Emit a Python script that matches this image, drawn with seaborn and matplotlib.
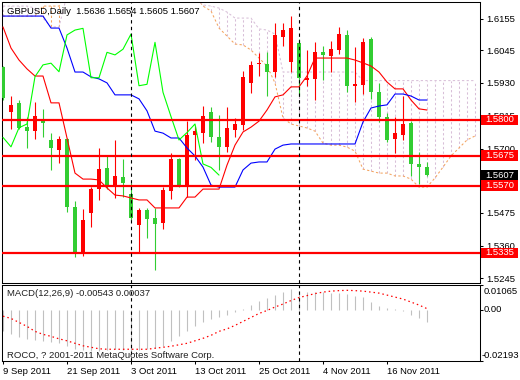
import numpy as np
import pandas as pd
import matplotlib
matplotlib.use("Agg")
import matplotlib.pyplot as plt
import matplotlib.transforms as mtransforms
from matplotlib.patches import Rectangle
import seaborn as sns

# ---------------- data ----------------
start_date, end_date = "2011-09-09", "2011-11-23"
bars_ahead = 6
chikou_shift = 26

opens = [1.5986, 1.5829, 1.5861, 1.5774, 1.5763, 1.5800, 1.5730, 1.5695, 1.5733, 1.5496,
         1.5333, 1.5475, 1.5558, 1.5631, 1.5570, 1.5599, 1.5541, 1.5432, 1.5485, 1.5458,
         1.5440, 1.5552, 1.5663, 1.5572, 1.5747, 1.5756, 1.5827, 1.5741, 1.5706, 1.5765,
         1.5782, 1.5929, 1.5996, 1.5996, 1.5969, 1.6092, 1.6004, 1.6069, 1.5940, 1.5943,
         1.6037, 1.6025, 1.6045, 1.6098, 1.5919, 1.5923, 1.6083, 1.5897, 1.5809, 1.5733,
         1.5747, 1.5791, 1.5646, 1.5636]
highs = [1.5990, 1.5884, 1.5870, 1.5812, 1.5864, 1.5838, 1.5755, 1.5744, 1.5736, 1.5516,
         1.5488, 1.5566, 1.5701, 1.5675, 1.5730, 1.5663, 1.5580, 1.5491, 1.5491, 1.5491,
         1.5566, 1.5683, 1.5668, 1.5798, 1.5780, 1.5849, 1.5846, 1.5818, 1.5846, 1.5807,
         1.5973, 1.6007, 1.6036, 1.6037, 1.6139, 1.6141, 1.6164, 1.6084, 1.6045, 1.6074,
         1.6059, 1.6077, 1.6125, 1.6115, 1.6057, 1.6088, 1.6092, 1.5930, 1.5826, 1.5812,
         1.5885, 1.5796, 1.5689, 1.5654]
lows = [1.5870, 1.5768, 1.5767, 1.5701, 1.5732, 1.5739, 1.5625, 1.5650, 1.5479, 1.5321,
        1.5325, 1.5426, 1.5520, 1.5557, 1.5526, 1.5529, 1.5450, 1.5335, 1.5388, 1.5275,
        1.5417, 1.5522, 1.5566, 1.5531, 1.5660, 1.5719, 1.5724, 1.5625, 1.5689, 1.5740,
        1.5765, 1.5896, 1.5954, 1.5884, 1.5950, 1.6059, 1.5969, 1.5885, 1.5919, 1.5870,
        1.5940, 1.5969, 1.6030, 1.5899, 1.5864, 1.5890, 1.5874, 1.5794, 1.5724, 1.5685,
        1.5730, 1.5604, 1.5576, 1.5605]
closes = [1.5877, 1.5853, 1.5771, 1.5762, 1.5814, 1.5788, 1.5701, 1.5733, 1.5494, 1.5335,
          1.5450, 1.5558, 1.5628, 1.5566, 1.5604, 1.5578, 1.5458, 1.5485, 1.5453, 1.5436,
          1.5555, 1.5663, 1.5570, 1.5747, 1.5761, 1.5814, 1.5739, 1.5706, 1.5773, 1.5786,
          1.5952, 1.5993, 1.5999, 1.5969, 1.6098, 1.6115, 1.6121, 1.5948, 1.5948, 1.6037,
          1.6028, 1.6048, 1.6101, 1.5920, 1.5925, 1.6072, 1.5897, 1.5812, 1.5730, 1.5756,
          1.5786, 1.5646, 1.5634, 1.5607]

tenkan = [1.6126, 1.6052, 1.6010, 1.5979, 1.5954, 1.5954, 1.5860, 1.5860, 1.5737, 1.5614,
          1.5593, 1.5593, 1.5590, 1.5562, 1.5537, 1.5534, 1.5527, 1.5520, 1.5520, 1.5492,
          1.5492, 1.5492, 1.5492, 1.5530, 1.5530, 1.5558, 1.5558, 1.5558, 1.5642, 1.5712,
          1.5758, 1.5775, 1.5796, 1.5835, 1.5881, 1.5888, 1.5916, 1.5916, 1.5954, 1.6017,
          1.6017, 1.6017, 1.6017, 1.6017, 1.6010, 1.6000, 1.5989, 1.5968, 1.5933, 1.5909,
          1.5909, 1.5870, 1.5839, 1.5835]
kijun = [1.6164, 1.6164, 1.6164, 1.6164, 1.6164, 1.6164, 1.6122, 1.6122, 1.6052, 1.5968,
         1.5968, 1.5951, 1.5944, 1.5930, 1.5888, 1.5888, 1.5888, 1.5874, 1.5832, 1.5761,
         1.5754, 1.5737, 1.5737, 1.5702, 1.5674, 1.5635, 1.5572, 1.5565, 1.5565, 1.5565,
         1.5625, 1.5649, 1.5653, 1.5653, 1.5698, 1.5712, 1.5716, 1.5716, 1.5716, 1.5716,
         1.5716, 1.5716, 1.5716, 1.5716, 1.5716, 1.5793, 1.5842, 1.5849, 1.5853, 1.5891,
         1.5891, 1.5884, 1.5870, 1.5870]
senkou_a = [1.6164, 1.6164, 1.6164, 1.6164, 1.6164, 1.6199, 1.6199, 1.6199, 1.6255, 1.6300,
            1.6300, 1.6300, 1.6300, 1.6300, 1.6300, 1.6300, 1.6300, 1.6300, 1.6300, 1.6300,
            1.6300, 1.6300, 1.6300, 1.6300, 1.6238, 1.6199, 1.6182, 1.6122, 1.6094, 1.6066,
            1.6063, 1.6045, 1.6017, 1.5989, 1.5930, 1.5807, 1.5786, 1.5779, 1.5772, 1.5761,
            1.5719, 1.5712, 1.5712, 1.5705, 1.5691, 1.5628, 1.5621, 1.5614, 1.5614, 1.5604,
            1.5604, 1.5593, 1.5565, 1.5565, 1.5597, 1.5635, 1.5674, 1.5702, 1.5730, 1.5744]
senkou_b = [1.6199, 1.6199, 1.6199, 1.6199, 1.6192, 1.6157, 1.6126, 1.6126, 1.6238, 1.6300,
            1.6300, 1.6300, 1.6300, 1.6300, 1.6300, 1.6300, 1.6300, 1.6300, 1.6300, 1.6300,
            1.6300, 1.6300, 1.6300, 1.6300, 1.6231, 1.6203, 1.6199, 1.6192, 1.6178, 1.6157,
            1.6157, 1.6157, 1.6119, 1.6115, 1.6101, 1.5968, 1.5968, 1.5968, 1.5968, 1.5968,
            1.5968, 1.5968, 1.5968, 1.5968, 1.5968, 1.5938, 1.5938, 1.5938, 1.5938, 1.5938,
            1.5938, 1.5938, 1.5938, 1.5938, 1.5938, 1.5938, 1.5938, 1.5938, 1.5938, 1.5938]

macd_main = [-0.00931, -0.01058, -0.01185, -0.01270, -0.01312, -0.01354, -0.01397, -0.01439, -0.01566, -0.01693,
             -0.01735, -0.01777, -0.01777, -0.01735, -0.01693, -0.01722, -0.01777, -0.01735, -0.01693, -0.01650,
             -0.01566, -0.01354, -0.01143, -0.00931, -0.00719, -0.00550, -0.00423, -0.00339, -0.00254, -0.00127,
             0.00042, 0.00212, 0.00381, 0.00495, 0.00635, 0.00749, 0.00889, 0.00804, 0.00749, 0.00749,
             0.00749, 0.00707, 0.00707, 0.00677, 0.00592, 0.00537, 0.00309, 0.00140, 0.00072, 0.00010,
             -0.00072, -0.00241, -0.00351, -0.00543]
macd_signal = [-0.00284, -0.00381, -0.00550, -0.00719, -0.00931, -0.01058, -0.01143, -0.01248, -0.01333, -0.01439,
               -0.01545, -0.01608, -0.01672, -0.01693, -0.01693, -0.01693, -0.01693, -0.01693, -0.01693, -0.01650,
               -0.01608, -0.01566, -0.01502, -0.01439, -0.01333, -0.01227, -0.01100, -0.00931, -0.00825, -0.00677,
               -0.00508, -0.00339, -0.00169, -0.00042, 0.00106, 0.00233, 0.00381, 0.00508, 0.00592, 0.00677,
               0.00741, 0.00783, 0.00804, 0.00817, 0.00804, 0.00783, 0.00741, 0.00698, 0.00614, 0.00529,
               0.00444, 0.00317, 0.00190, 0.00037]

levels = [1.5800, 1.5675, 1.5570, 1.5335]
price_ticks = [1.6155, 1.6045, 1.5930, 1.5815, 1.5700, 1.5475, 1.5360, 1.5245]
macd_ticks = [0.01065, 0.0, -0.02193]
macd_tick_labels = ["0.01065", "0.00", "-0.02193"]
date_tick_labels = ["9 Sep 2011", "21 Sep 2011", "3 Oct 2011", "13 Oct 2011",
                    "25 Oct 2011", "4 Nov 2011", "16 Nov 2011"]
title_text = "GBPUSD,Daily  1.5636 1.5654 1.5605 1.5607"
macd_text = "MACD(12,26,9) -0.00543 0.00037"
copyright_text = "ROCO, ? 2001-2011 MetaQuotes Software Corp."

# ---------------- style ----------------
sns.set_theme(style="white")
plt.rcParams["font.family"] = ["Liberation Sans", "DejaVu Sans"]
FS = 6.8
UP_C, DN_C = "#ff0000", "#32cd32"

W, H = 520, 380
fig = plt.figure(figsize=(W / 100, H / 100), dpi=100)
fig.patch.set_facecolor("white")


def px_box(x0, y0, x1, y1):
    return [x0 / W, 1 - y1 / H, (x1 - x0) / W, (y1 - y0) / H]


ax = fig.add_axes(px_box(2, 2, 480, 282.5))
axm = fig.add_axes(px_box(2, 284.5, 480, 361))

dates = pd.bdate_range(start_date, end_date)
n = len(dates)
x = np.arange(n)
xf = np.arange(n + bars_ahead)

df = pd.DataFrame({"x": x, "open": opens, "high": highs, "low": lows, "close": closes,
                   "tenkan": tenkan, "kijun": kijun, "macd": macd_main, "signal": macd_signal})
cloud = pd.DataFrame({"x": xf, "a": senkou_a, "b": senkou_b})

# ---------------- main panel ----------------
dash = (0, (2.2, 2.2))
cloud_cols = np.where(cloud["a"] >= cloud["b"], "sandybrown", "thistle")
ax.vlines(cloud["x"], cloud["a"], cloud["b"], colors=cloud_cols, linestyles=dash, lw=0.75, zorder=1)
ax.plot(cloud["x"], cloud["a"], color="sandybrown", ls=dash, lw=0.75, zorder=2)
ax.plot(cloud["x"], cloud["b"], color="thistle", ls=dash, lw=0.75, zorder=2)

up = df["close"] >= df["open"]
cols = np.where(up, UP_C, DN_C)
ax.vlines(df["x"], df["low"], df["high"], colors=cols, lw=0.8, zorder=3)
body = np.maximum((df["close"] - df["open"]).abs(), 0.0003)
ax.bar(df["x"], body, bottom=np.minimum(df["open"], df["close"]), width=0.62,
       color=cols, lw=0, zorder=4)

sns.lineplot(data=df, x="x", y="tenkan", ax=ax, color="red", lw=0.8, zorder=6)
sns.lineplot(data=df, x="x", y="kijun", ax=ax, color="blue", lw=0.8, zorder=6)
chikou = pd.DataFrame({"x": x[: n - chikou_shift], "c": df["close"].values[chikou_shift:]})
sns.lineplot(data=chikou, x="x", y="c", ax=ax, color="#00ff00", lw=0.8, zorder=6)

for lv in levels:
    ax.axhline(lv, color="red", lw=1.6, zorder=7)

month_starts = [i for i in range(1, n) if dates[i].month != dates[i - 1].month]
for ms in month_starts:
    for a_ in (ax, axm):
        a_.axvline(ms, color="black", ls=(0, (3, 3)), lw=0.8, zorder=8)

ymin, ymax = 1.52308, 1.62133
xlim = (-0.125, 59.625)
ax.set_xlim(*xlim)
ax.set_ylim(ymin, ymax)
ax.set_xlabel("")
ax.set_ylabel("")
ax.set_xticks([])
ax.yaxis.tick_right()
ax.set_yticks(price_ticks)
ax.set_yticklabels([f"{v:.4f}" for v in price_ticks])
ax.tick_params(axis="y", right=True, left=False, length=2.5, width=0.75, pad=2,
               labelsize=FS, colors="black", direction="out")
for a_ in (ax, axm):
    for s in a_.spines.values():
        s.set_color("black")
        s.set_linewidth(0.75)
    a_.set_facecolor("white")

trans = mtransforms.blended_transform_factory(ax.transAxes, ax.transData)
px_per_price = 280.5 / (ymax - ymin)
tag_h = 10.5 / px_per_price
tag_x0 = (481.5 - 2) / 478
tag_w = 36.5 / 478


def price_tag(v, fc):
    ax.add_patch(Rectangle((tag_x0, v - tag_h / 2), tag_w, tag_h, transform=trans,
                           fc=fc, ec="none", clip_on=False, zorder=10))
    ax.text(tag_x0 + tag_w / 2, v, f"{v:.4f}", transform=trans, ha="center", va="center",
            color="white", fontsize=FS, clip_on=False, zorder=11)


for lv in levels:
    price_tag(lv, "#ff0000")
price_tag(df["close"].iloc[-1], "#000000")

# ---------------- MACD panel ----------------
axm.vlines(df["x"], 0, df["macd"], colors="#c0c0c0", lw=0.8, zorder=2)
sns.lineplot(data=df, x="x", y="signal", ax=axm, color="red", lw=0.9,
             linestyle=(0, (1.2, 2.4)), zorder=3)
axm.set_xlim(*xlim)
mtop, mbot = macd_ticks[0], macd_ticks[-1]
axm.set_ylim(mbot, mtop)
axm.set_xlabel("")
axm.set_ylabel("")
axm.yaxis.tick_right()
axm.set_yticks(macd_ticks)
axm.set_yticklabels([""] * len(macd_ticks))
axm.tick_params(axis="y", right=True, left=False, length=2.5, width=0.75,
                colors="black", direction="out")

# MetaTrader-style scale labels (drawn inside the panel's height)
transm = mtransforms.blended_transform_factory(axm.transAxes, axm.transData)
unit_per_px = (mtop - mbot) / 76.5
label_y = [mtop - 6.5 * unit_per_px, 0.0, mbot + 5.0 * unit_per_px]
label_x = [(484 - 2) / 478, (484 - 2) / 478, (482 - 2) / 478]
for lx, ly, lt in zip(label_x, label_y, macd_tick_labels):
    axm.text(lx, ly, lt, transform=transm, ha="left", va="center", fontsize=FS,
             color="black", clip_on=False)

tick_dates = pd.to_datetime(date_tick_labels, format="%d %b %Y")
tick_idx = [dates.get_loc(d) for d in tick_dates]
axm.set_xticks(tick_idx)
axm.set_xticklabels(date_tick_labels, ha="left")
axm.tick_params(axis="x", bottom=True, length=2.5, width=0.75, pad=1.5,
                labelsize=FS, colors="black", direction="out")

# ---------------- texts ----------------
fig.text(7 / W, 1 - 11 / H, title_text, fontsize=FS, color="black", ha="left", va="center")
fig.text(7 / W, 1 - 294 / H, macd_text, fontsize=FS, color="#202020", ha="left", va="center")
fig.text(7 / W, 1 - 355 / H, copyright_text, fontsize=FS, color="#202020", ha="left", va="center")

fig.savefig("out.png", dpi=100, facecolor="white")
